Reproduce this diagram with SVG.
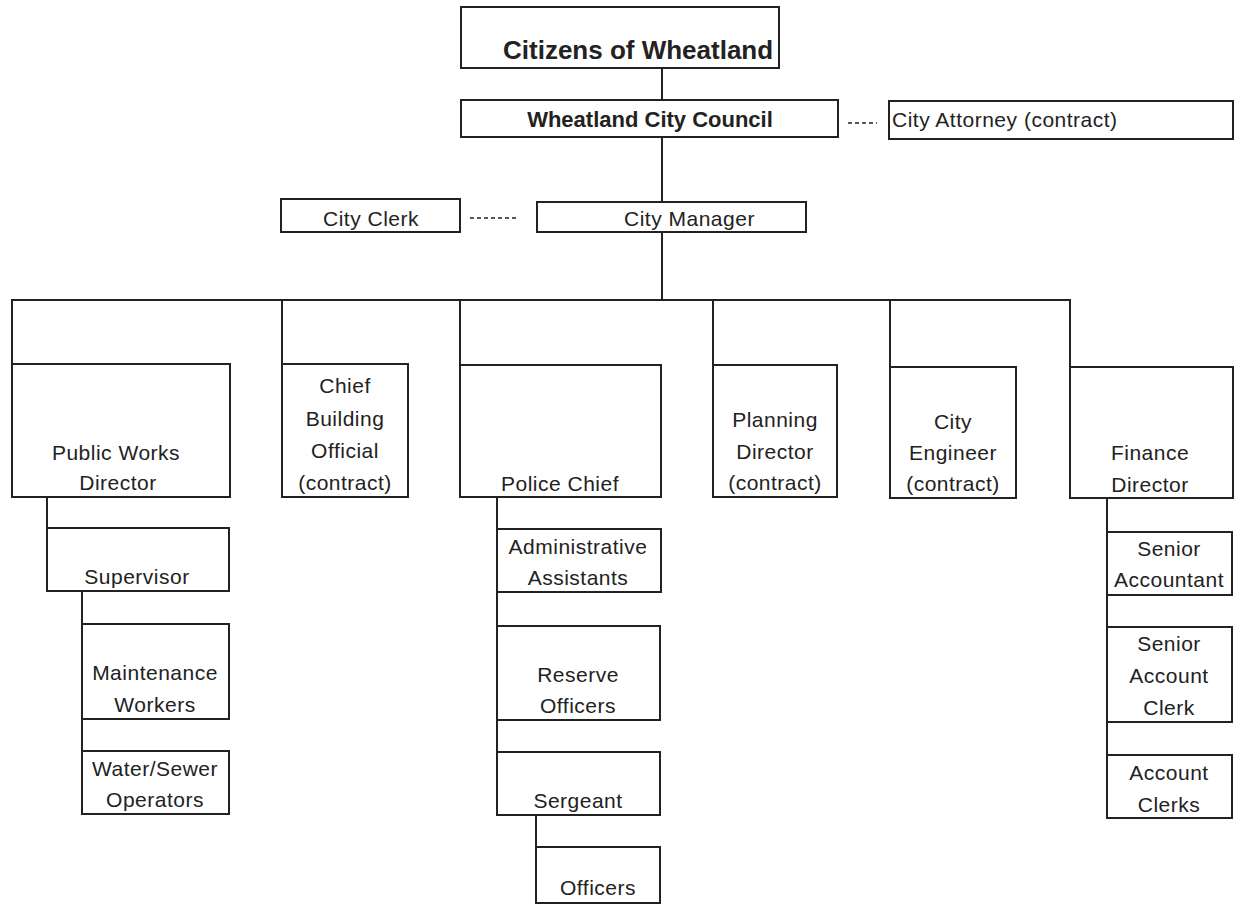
<svg xmlns="http://www.w3.org/2000/svg" width="1236" height="905" viewBox="0 0 1236 905">
<style>
.box{fill:#fff;stroke:#222;stroke-width:2}
.ln{stroke:#222;stroke-width:2;fill:none}
.dash{stroke:#222;stroke-width:1.5;stroke-dasharray:4 3;fill:none}
text{font-family:"Liberation Sans",Arial,sans-serif;font-size:21px;fill:#222;letter-spacing:0.5px;text-anchor:middle}
.b{font-weight:bold;letter-spacing:0}
</style>
<rect width="1236" height="905" fill="#fff"/>
<g id="connectors">
<line class="ln" x1="662" y1="68" x2="662" y2="100"/>
<line class="ln" x1="662" y1="137" x2="662" y2="202"/>
<line class="ln" x1="662" y1="232" x2="662" y2="300"/>
<line class="dash" x1="848" y1="123" x2="877" y2="123"/>
<line class="dash" x1="470" y1="218" x2="516" y2="218"/>
<polyline class="ln" points="12,364 12,300 1070,300 1070,367"/>
<line class="ln" x1="282" y1="300" x2="282" y2="364"/>
<line class="ln" x1="460" y1="300" x2="460" y2="365"/>
<line class="ln" x1="713" y1="300" x2="713" y2="365"/>
<line class="ln" x1="890" y1="300" x2="890" y2="367"/>
<line class="ln" x1="47" y1="497" x2="47" y2="528"/>
<line class="ln" x1="82" y1="591" x2="82" y2="814"/>
<line class="ln" x1="497" y1="497" x2="497" y2="815"/>
<line class="ln" x1="536" y1="815" x2="536" y2="847"/>
<line class="ln" x1="1107" y1="498" x2="1107" y2="818"/>
</g>
<g id="citizens"><rect class="box" x="461" y="7" width="318" height="61"/><text class="b" x="503" y="59" style="font-size:26px;text-anchor:start">Citizens of Wheatland</text></g>
<g id="council"><rect class="box" x="461" y="100" width="377" height="37"/><text class="b" x="650" y="127" style="font-size:22px">Wheatland City Council</text></g>
<g id="attorney"><rect class="box" x="889" y="101" width="344" height="38"/><text x="892" y="127" style="text-anchor:start">City Attorney (contract)</text></g>
<g id="clerk"><rect class="box" x="281" y="199" width="179" height="33"/><text x="371" y="226">City Clerk</text></g>
<g id="manager"><rect class="box" x="537" y="202" width="269" height="30"/><text x="624" y="226" style="text-anchor:start">City Manager</text></g>
<g id="public-works"><rect class="box" x="12" y="364" width="218" height="133"/><text x="116" y="460">Public Works</text><text x="118" y="490">Director</text></g>
<g id="building"><rect class="box" x="282" y="364" width="126" height="133"/><text x="345" y="393">Chief</text><text x="345" y="426">Building</text><text x="345" y="458">Official</text><text x="345" y="490">(contract)</text></g>
<g id="police"><rect class="box" x="460" y="365" width="201" height="132"/><text x="560" y="491">Police Chief</text></g>
<g id="planning"><rect class="box" x="713" y="365" width="124" height="132"/><text x="775" y="427">Planning</text><text x="775" y="459">Director</text><text x="775" y="490">(contract)</text></g>
<g id="engineer"><rect class="box" x="890" y="367" width="126" height="131"/><text x="953" y="429">City</text><text x="953" y="460">Engineer</text><text x="953" y="491">(contract)</text></g>
<g id="finance"><rect class="box" x="1070" y="367" width="163" height="131"/><text x="1150" y="460">Finance</text><text x="1150" y="492">Director</text></g>
<g id="supervisor"><rect class="box" x="47" y="528" width="182" height="63"/><text x="137" y="584">Supervisor</text></g>
<g id="maintenance"><rect class="box" x="82" y="624" width="147" height="95"/><text x="155" y="680">Maintenance</text><text x="155" y="712">Workers</text></g>
<g id="water-sewer"><rect class="box" x="82" y="751" width="147" height="63"/><text x="155" y="776">Water/Sewer</text><text x="155" y="807">Operators</text></g>
<g id="admin"><rect class="box" x="497" y="529" width="164" height="63"/><text x="578" y="554">Administrative</text><text x="578" y="585">Assistants</text></g>
<g id="reserve"><rect class="box" x="497" y="626" width="163" height="94"/><text x="578" y="682">Reserve</text><text x="578" y="713">Officers</text></g>
<g id="sergeant"><rect class="box" x="497" y="752" width="163" height="63"/><text x="578" y="808">Sergeant</text></g>
<g id="officers"><rect class="box" x="536" y="847" width="124" height="56"/><text x="598" y="895">Officers</text></g>
<g id="senior-accountant"><rect class="box" x="1107" y="532" width="125" height="63"/><text x="1169" y="556">Senior</text><text x="1169" y="587">Accountant</text></g>
<g id="senior-account-clerk"><rect class="box" x="1107" y="627" width="125" height="95"/><text x="1169" y="651">Senior</text><text x="1169" y="683">Account</text><text x="1169" y="715">Clerk</text></g>
<g id="account-clerks"><rect class="box" x="1107" y="755" width="125" height="63"/><text x="1169" y="780">Account</text><text x="1169" y="812">Clerks</text></g>
</svg>
